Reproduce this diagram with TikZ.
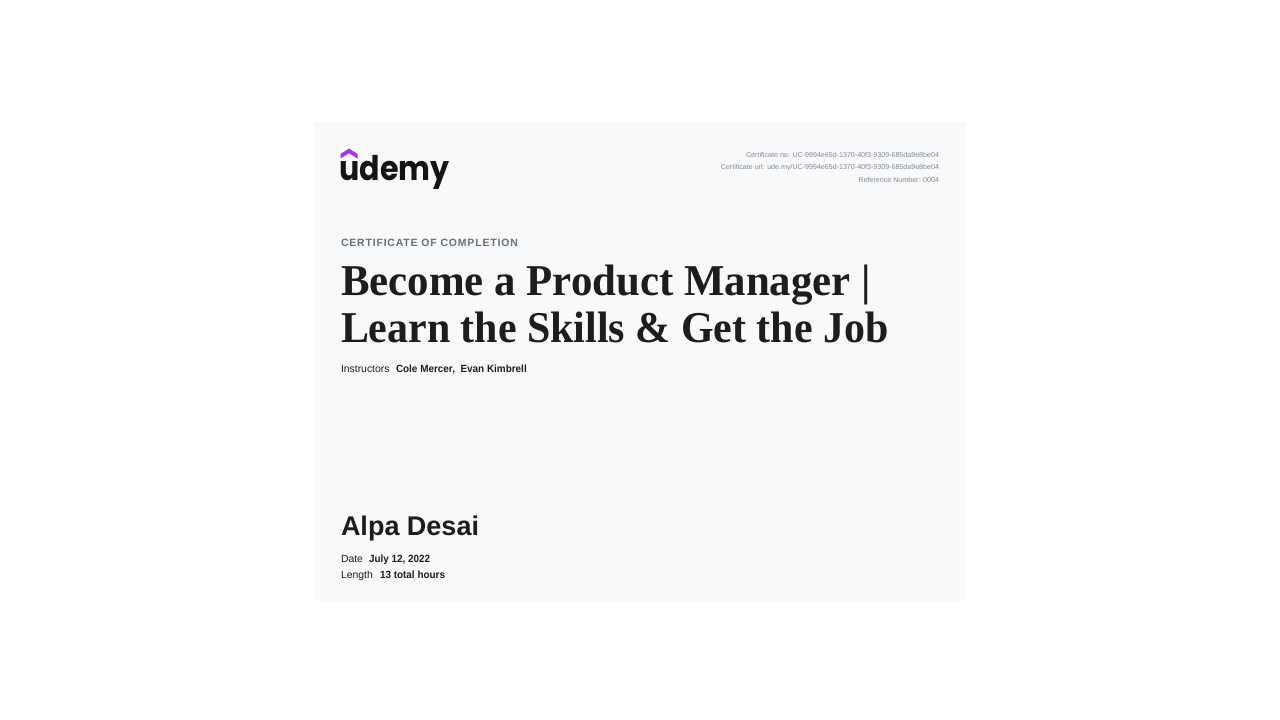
\documentclass[tikz,border=0pt]{standalone}
\usepackage{fontspec}
\setmainfont{Liberation Sans}
\newfontfamily\titlefontA[FakeStretch=0.974]{Liberation Serif}
\newfontfamily\titlefontB[FakeStretch=0.953]{Liberation Serif}
\newfontfamily\logofont[FakeStretch=0.885]{Poppins}
\newfontfamily\strongfont[FakeStretch=0.95]{Liberation Sans}
\newfontfamily\kickerfont[LetterSpace=7.7]{Liberation Sans}
\definecolor{cardbg}{HTML}{F8F9FB}
\definecolor{ink}{HTML}{1C1D1F}
\definecolor{muted}{HTML}{6A6F73}
\definecolor{faint}{HTML}{85898C}
\definecolor{violet}{HTML}{A435F0}
\tikzset{
  x=1pt,y=-1pt,
  lbl/.style={inner sep=0pt,outer sep=0pt,anchor=base west,text=ink},
  meta/.style={inner sep=0pt,outer sep=0pt,anchor=base east,text=faint,font=\fontsize{7.1}{8}\selectfont},
  body/.style={lbl,font=\fontsize{10.4}{13}\selectfont},
  strong/.style={lbl,font=\fontsize{10.45}{13}\strongfont\bfseries},
  headlineA/.style={lbl,font=\fontsize{44}{48}\titlefontA\bfseries},
  headlineB/.style={lbl,font=\fontsize{44}{48}\titlefontB\bfseries}
}
\begin{document}
\begin{tikzpicture}
\useasboundingbox (0,0) rectangle (1280,720);
\fill[white] (0,0) rectangle (1280,720);
\fill[cardbg] (314,122) rectangle (966,601);
% logo
\fill[violet] (340.5,154) -- (349,148.5) -- (357.5,154) -- (357.5,158.5) -- (349,153.2) -- (340.5,158.5) -- cycle;
\node[lbl,text=black!92,font=\fontsize{34}{34}\logofont\bfseries] (logo) at (339.5,180.5) {udemy};
% certificate data
\node[meta] (certno) at (939,157.5) {Certificate no: UC-9994e65d-1370-40f3-9309-685da9e8be04};
\node[meta] (certurl) at (939,169.5) {Certificate url: ude.my/UC-9994e65d-1370-40f3-9309-685da9e8be04};
\node[meta] (refno) at (939,182) {Reference Number: 0004};
% heading
\node[lbl,text=muted,font=\fontsize{10.5}{12}\kickerfont\bfseries] (kicker) at (341,246) {CERTIFICATE OF COMPLETION};
\node[headlineA] (t1) at (341,295) {Become a Product Manager |};
\node[headlineB] (t2) at (341,342) {Learn the Skills \& Get the Job};
% instructors
\node[body] (inst) at (341,372.5) {Instructors};
\node[strong] (names) at (396,372.5) {Cole Mercer,\ \ Evan Kimbrell};
% recipient
\node[lbl,font=\fontsize{27}{30}\selectfont\bfseries] (name) at (341,535.5) {Alpa Desai};
\node[body] (dl) at (341,562.5) {Date};
\node[strong] (dv) at (369,562.5) {July 12, 2022};
\node[body] (ll) at (341,578.5) {Length};
\node[strong] (lv) at (380,578.5) {13 total hours};
\end{tikzpicture}
\end{document}
